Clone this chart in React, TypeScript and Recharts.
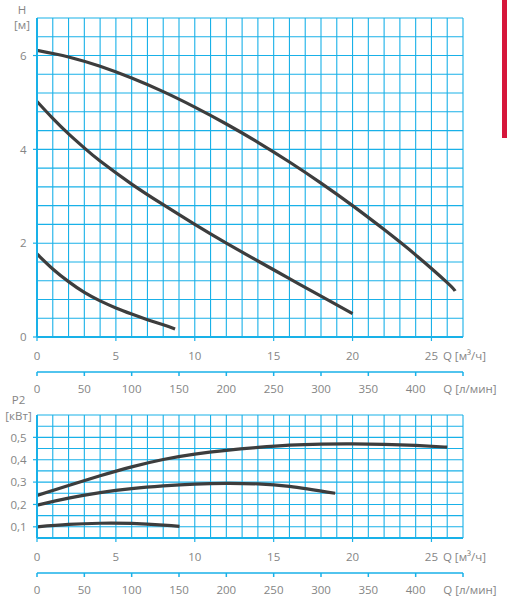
import React from "react";
import { LineChart, Line, XAxis, YAxis, CartesianGrid } from "recharts";

// характеристики насоса: напор H [м] и мощность P2 [кВт] от подачи Q [м³/ч]
const headHigh = [
  { q: 0, v: 6.11 }, { q: 2, v: 5.97 }, { q: 4, v: 5.77 }, { q: 6, v: 5.52 },
  { q: 8, v: 5.23 }, { q: 10, v: 4.9 }, { q: 12, v: 4.54 }, { q: 14, v: 4.15 },
  { q: 16, v: 3.73 }, { q: 18, v: 3.28 }, { q: 20, v: 2.8 }, { q: 22, v: 2.29 },
  { q: 24, v: 1.75 }, { q: 26, v: 1.16 }, { q: 26.5, v: 0.98 },
];
const headMid = [
  { q: 0, v: 5.02 }, { q: 1, v: 4.66 }, { q: 2, v: 4.33 }, { q: 3, v: 4.03 },
  { q: 4, v: 3.75 }, { q: 6, v: 3.26 }, { q: 8, v: 2.82 }, { q: 10, v: 2.4 },
  { q: 12, v: 2.0 }, { q: 14, v: 1.62 }, { q: 16, v: 1.245 }, { q: 18, v: 0.87 },
  { q: 20, v: 0.5 },
];
const headLow = [
  { q: 0, v: 1.77 }, { q: 1, v: 1.45 }, { q: 2, v: 1.18 }, { q: 3, v: 0.95 },
  { q: 4, v: 0.77 }, { q: 5, v: 0.62 }, { q: 6, v: 0.49 }, { q: 7, v: 0.37 },
  { q: 8, v: 0.26 }, { q: 8.75, v: 0.17 },
];
const powerHigh = [
  { q: 0, v: 0.24 }, { q: 2, v: 0.285 }, { q: 4, v: 0.328 }, { q: 6, v: 0.368 },
  { q: 8, v: 0.401 }, { q: 10, v: 0.425 }, { q: 12, v: 0.442 }, { q: 14, v: 0.455 },
  { q: 16, v: 0.465 }, { q: 18, v: 0.47 }, { q: 20, v: 0.471 }, { q: 22, v: 0.469 },
  { q: 24, v: 0.464 }, { q: 26, v: 0.456 },
];
const powerMid = [
  { q: 0, v: 0.197 }, { q: 2, v: 0.228 }, { q: 4, v: 0.253 }, { q: 6, v: 0.271 },
  { q: 8, v: 0.283 }, { q: 10, v: 0.291 }, { q: 12, v: 0.294 }, { q: 14, v: 0.292 },
  { q: 16, v: 0.281 }, { q: 18.9, v: 0.25 },
];
const powerLow = [
  { q: 0, v: 0.1 }, { q: 2, v: 0.111 }, { q: 4, v: 0.116 }, { q: 6, v: 0.115 },
  { q: 8, v: 0.108 }, { q: 9.03, v: 0.102 },
];

// сетка и подписи
const qGrid = [0, 1, 2, 3, 4, 5, 6, 7, 8, 9, 10, 11, 12, 13, 14, 15, 16, 17, 18, 19, 20, 21, 22, 23, 24, 25, 26, 27];
const qLabels = [0, 5, 10, 15, 20, 25];
const lminTicks = [0, 50, 100, 150, 200, 250, 300, 350, 400, 450];
const hGrid = [0, 0.4, 0.8, 1.2, 1.6, 2, 2.4, 2.8, 3.2, 3.6, 4, 4.4, 4.8, 5.2, 5.6, 6, 6.4, 6.8];
const hLabels = [0, 2, 4, 6];
const pGrid = [0.05, 0.1, 0.15, 0.2, 0.25, 0.3, 0.35, 0.4, 0.45, 0.5, 0.55, 0.6];
const pLabels = [0.1, 0.2, 0.3, 0.4, 0.5];

const GRID = "#19b1e8";
const CURVE = "#3d3d3d";
const TXT = "#858585";
const FONT = "'Open Sans', sans-serif";
const FS = 11.5;

// id осей: 0 — м³/ч (ближе к графику), 1 — л/мин (снизу)
const Q_AXIS = 0;
const L_AXIS = 1;

const near = (a: number, list: number[]) => list.some((b) => Math.abs(a - b) < 1e-6);

function QTick({ x, y, payload }: any) {
  const v = payload.value;
  if (!near(v, qLabels)) return <g />;
  return (
    <g>
      <line x1={x} x2={x} y1={y} y2={y + 4} stroke={GRID} strokeWidth={1.2} />
      <text x={x} y={y + 23.3} textAnchor="middle" fill={TXT} fontSize={FS} fontFamily={FONT}>
        {v}
      </text>
      {v === 25 && (
        <text x={x + 11.5} y={y + 23.3} textAnchor="start" fill={TXT} fontSize={FS} fontFamily={FONT}>
          Q [м³/ч]
        </text>
      )}
    </g>
  );
}

function LTick({ x, y, payload }: any) {
  const v = payload.value;
  return (
    <g>
      <line x1={x} x2={x} y1={y} y2={y + 4} stroke={GRID} strokeWidth={1.5} />
      {v === 450 ? (
        <text x={x - 19.7} y={y + 21} textAnchor="start" fill={TXT} fontSize={FS} fontFamily={FONT}>
          Q [л/мин]
        </text>
      ) : (
        <text x={x} y={y + 21} textAnchor="middle" fill={TXT} fontSize={FS} fontFamily={FONT}>
          {v}
        </text>
      )}
    </g>
  );
}

function makeYTick(labels: number[], fmt: (v: number) => string) {
  return function YTick({ x, y, payload }: any) {
    const v = payload.value;
    if (!near(v, labels)) return <g />;
    return (
      <g>
        <line x1={x - 4} x2={x} y1={y} y2={y} stroke={GRID} strokeWidth={1.2} />
        <text x={x - 10.3} y={y + 4.2} textAnchor="end" fill={TXT} fontSize={FS} fontFamily={FONT}>
          {fmt(v)}
        </text>
      </g>
    );
  };
}

const HTick = makeYTick(hLabels, (v) => String(v));
const PTick = makeYTick(pLabels, (v) => v.toFixed(1).replace(".", ","));

function AxisTitle({ top, bottom, cy1, cy2, cx }: any) {
  return (
    <g>
      <text x={cx} y={cy1 + 4} textAnchor="middle" fill={TXT} fontSize={FS} fontFamily={FONT}>
        {top}
      </text>
      <text x={cx} y={cy2 + 4} textAnchor="middle" fill={TXT} fontSize={FS} fontFamily={FONT}>
        {bottom}
      </text>
    </g>
  );
}

const qTickEl = <QTick />;
const lTickEl = <LTick />;
const hTickEl = <HTick />;
const pTickEl = <PTick />;
const hTitle = <AxisTitle top="H" bottom="[м]" cx={22} cy1={9.7} cy2={25} />;
const pTitle = <AxisTitle top="P2" bottom="[кВт]" cx={18.5} cy1={10} cy2={25.7} />;
const mainAxisLine = { stroke: GRID, strokeWidth: 2 };
const flowAxisLine = { stroke: GRID, strokeWidth: 1.6 };
const qDomain: [number, number] = [0, 27];
const lDomain: [number, number] = [0, 450];
const hDomain: [number, number] = [0, 6.8];
const pDomain: [number, number] = [0.05, 0.6];
const topMargin = { top: 18, right: 44, left: 0, bottom: 0 };
const botMargin = { top: 25, right: 44, left: 0, bottom: 0 };

const curveProps = {
  dataKey: "v",
  xAxisId: Q_AXIS,
  type: "natural" as const,
  stroke: CURVE,
  strokeWidth: 3.2,
  dot: false,
  activeDot: false,
  isAnimationActive: false,
};

export default function App() {
  return (
    <div
      style={{
        position: "absolute",
        left: 0,
        top: 0,
        width: 507,
        height: 598,
        overflow: "hidden",
        background: "#fff",
      }}
    >
      <div style={{ position: "absolute", left: 502, top: 0, width: 5, height: 138, background: "#d6163b" }} />

      <div style={{ position: "absolute", left: 0, top: 0 }}>
        <LineChart width={507} height={402} margin={topMargin}>
          <CartesianGrid xAxisId={Q_AXIS} stroke={GRID} strokeWidth={1.1} />
          <XAxis
            xAxisId={Q_AXIS}
            dataKey="q"
            type="number"
            domain={qDomain}
            ticks={qGrid}
            interval={0}
            height={35}
            tickSize={0}
            tickMargin={0}
            axisLine={mainAxisLine}
            tickLine={false}
            tick={qTickEl}
            allowDataOverflow
          />
          <XAxis
            xAxisId={L_AXIS}
            dataKey="q"
            type="number"
            domain={lDomain}
            ticks={lminTicks}
            interval={0}
            height={30}
            tickSize={0}
            tickMargin={0}
            axisLine={flowAxisLine}
            tickLine={false}
            tick={lTickEl}
            allowDataOverflow
          />
          <YAxis
            type="number"
            domain={hDomain}
            ticks={hGrid}
            interval={0}
            width={37}
            tickSize={0}
            tickMargin={0}
            axisLine={mainAxisLine}
            tickLine={false}
            tick={hTickEl}
            allowDataOverflow
            label={hTitle}
          />
          <Line data={headHigh} {...curveProps} />
          <Line data={headMid} {...curveProps} />
          <Line data={headLow} {...curveProps} />
        </LineChart>
      </div>

      <div style={{ position: "absolute", left: 0, top: 390 }}>
        <LineChart width={507} height={208} margin={botMargin}>
          <CartesianGrid xAxisId={Q_AXIS} stroke={GRID} strokeWidth={1.1} />
          <XAxis
            xAxisId={Q_AXIS}
            dataKey="q"
            type="number"
            domain={qDomain}
            ticks={qGrid}
            interval={0}
            height={35}
            tickSize={0}
            tickMargin={0}
            axisLine={mainAxisLine}
            tickLine={false}
            tick={qTickEl}
            allowDataOverflow
          />
          <XAxis
            xAxisId={L_AXIS}
            dataKey="q"
            type="number"
            domain={lDomain}
            ticks={lminTicks}
            interval={0}
            height={25}
            tickSize={0}
            tickMargin={0}
            axisLine={flowAxisLine}
            tickLine={false}
            tick={lTickEl}
            allowDataOverflow
          />
          <YAxis
            type="number"
            domain={pDomain}
            ticks={pGrid}
            interval={0}
            width={37}
            tickSize={0}
            tickMargin={0}
            axisLine={mainAxisLine}
            tickLine={false}
            tick={pTickEl}
            allowDataOverflow
            label={pTitle}
          />
          <Line data={powerHigh} {...curveProps} />
          <Line data={powerMid} {...curveProps} />
          <Line data={powerLow} {...curveProps} />
        </LineChart>
      </div>
    </div>
  );
}
